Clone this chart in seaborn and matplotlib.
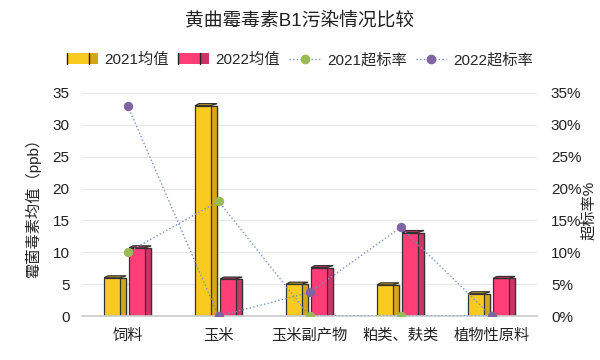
import matplotlib
matplotlib.use("Agg")
import matplotlib.pyplot as plt
import seaborn as sns
import pandas as pd
import numpy as np
from matplotlib.patches import Rectangle, Polygon
from matplotlib.lines import Line2D
from matplotlib.legend_handler import HandlerBase
from matplotlib.ticker import FuncFormatter, MultipleLocator

categories = ["饲料", "玉米", "玉米副产物", "粕类、麸类", "植物性原料"]
mean_2021 = [6.0, 33.0, 5.0, 4.9, 3.5]
mean_2022 = [10.7, 5.8, 7.6, 13.1, 5.9]
rate_2021 = [0.10, 0.18, 0.0, 0.0, 0.0]
rate_2022 = [0.33, 0.0, 0.037, 0.139, 0.0]
series_names = ["2021均值", "2022均值", "2021超标率", "2022超标率"]

sns.set_theme(style="white")
FONTS = ["Liberation Sans", "Noto Sans CJK SC", "DejaVu Sans"]
plt.rcParams["font.family"] = FONTS
plt.rcParams["axes.unicode_minus"] = False

face = {"2021均值": "#F9CB20", "2022均值": "#FF3D77"}
side = {"2021均值": "#D6A714", "2022均值": "#CC3366"}
line_col = "#7393C8"
mk_col = {"2021超标率": "#9BBB59", "2022超标率": "#8064A2"}
txt = "#222222"

df = pd.DataFrame({
    "cat": categories * 2,
    "val": mean_2021 + mean_2022,
    "series": [series_names[0]] * 5 + [series_names[1]] * 5,
})

fig = plt.figure(figsize=(6, 3.6), dpi=100)
ax = fig.add_axes([0.137, 0.122, 0.758, 0.620])

sns.barplot(data=df, x="cat", y="val", hue="series", palette=face,
            width=0.55, gap=0.12, ax=ax, legend=False,
            edgecolor="#333333", linewidth=0.9, saturation=1)

ax.set_ylim(0, 35)
ax.set_xlim(-0.5, 4.5)
# one pixel in data units (for small 3D top face)
px_y = 35 / (0.620 * 360)

for patch, name in zip(list(ax.patches), [series_names[0]] * 5 + [series_names[1]] * 5):
    x0, y0 = patch.get_x(), patch.get_y()
    w, h = patch.get_width(), patch.get_height()
    sw = w * 0.29
    z = patch.get_zorder() + 0.1
    ax.add_patch(Rectangle((x0 + w - sw, y0), sw, h, facecolor=side[name],
                           edgecolor="#333333", linewidth=0.9, zorder=z))
    dy = 2.0 * px_y
    ax.add_patch(Polygon([(x0, y0 + h), (x0 + w - sw, y0 + h), (x0 + w, y0 + h + dy),
                          (x0 + sw * 0.6, y0 + h + dy)], closed=True,
                         facecolor=side[name], edgecolor="#333333", linewidth=0.9, zorder=z))

ax.yaxis.set_major_locator(MultipleLocator(5))
ax.grid(axis="y", color="#E8E8E8", linewidth=0.8)
ax.set_axisbelow(True)
for s in ["top", "right", "left"]:
    ax.spines[s].set_visible(False)
ax.spines["bottom"].set_color("#CCCCCC")
ax.tick_params(axis="both", length=0, labelsize=11, colors=txt)
ax.tick_params(axis="y", pad=9)
ax.tick_params(axis="x", pad=9)
ax.set_xlabel("")
ax.set_ylabel("霉菌毒素均值（ppb）", fontsize=11, color=txt, labelpad=8)

ax2 = ax.twinx()
for name, vals in [("2021超标率", rate_2021), ("2022超标率", rate_2022)]:
    sns.lineplot(x=np.arange(len(categories)), y=vals, ax=ax2, color=line_col,
                 linestyle=":", linewidth=1.0, marker="o", markersize=6,
                 markerfacecolor=mk_col[name], markeredgecolor=mk_col[name],
                 zorder=5)
ax2.set_ylim(0, 0.35)
ax2.yaxis.set_major_locator(MultipleLocator(0.05))
ax2.yaxis.set_major_formatter(FuncFormatter(lambda v, p: f"{v*100:.0f}%"))
for s in ["top", "right", "left", "bottom"]:
    ax2.spines[s].set_visible(False)
ax2.tick_params(axis="y", length=0, labelsize=11, colors=txt, pad=10)
ax2.set_ylabel("超标率%", fontsize=11, color=txt, rotation=90)
ax2.yaxis.set_label_coords(1.098, 0.475)
ax2.set_xlim(-0.5, 4.5)
ax.set_xticks(range(len(categories)))
ax.set_xticklabels(categories)

fig.text(0.5, 0.944, "黄曲霉毒素B1污染情况比较", ha="center", va="center",
         fontsize=13.5, color=txt)


class BarHandle:
    def __init__(self, f, s):
        self.f, self.s = f, s


class BarHandler(HandlerBase):
    def create_artists(self, legend, orig, xd, yd, width, height, fontsize, trans):
        sw = width * 0.3
        r1 = Rectangle((xd, yd), width - sw, height, facecolor=orig.f,
                       edgecolor="none", transform=trans)
        r2 = Rectangle((xd + width - sw, yd), sw, height, facecolor=orig.s,
                       edgecolor="none", transform=trans)
        l1 = Line2D([xd, xd], [yd, yd + height], color=txt, lw=1, transform=trans)
        l2 = Line2D([xd + width - sw] * 2, [yd, yd + height], color=txt, lw=1, transform=trans)
        return [r1, r2, l1, l2]


handles = [BarHandle(face[series_names[0]], side[series_names[0]]),
           BarHandle(face[series_names[1]], side[series_names[1]]),
           Line2D([], [], color=line_col, linestyle=":", lw=1, marker="o", markersize=6,
                  markerfacecolor=mk_col["2021超标率"], markeredgecolor=mk_col["2021超标率"]),
           Line2D([], [], color=line_col, linestyle=":", lw=1, marker="o", markersize=6,
                  markerfacecolor=mk_col["2022超标率"], markeredgecolor=mk_col["2022超标率"])]
fig.legend(handles, series_names, loc="center", bbox_to_anchor=(0.5, 0.833), ncol=4,
           frameon=False, fontsize=11, handlelength=2.0, handleheight=0.75,
           columnspacing=0.6, handletextpad=0.45,
           handler_map={BarHandle: BarHandler()})

fig.savefig("out.png", dpi=100)
